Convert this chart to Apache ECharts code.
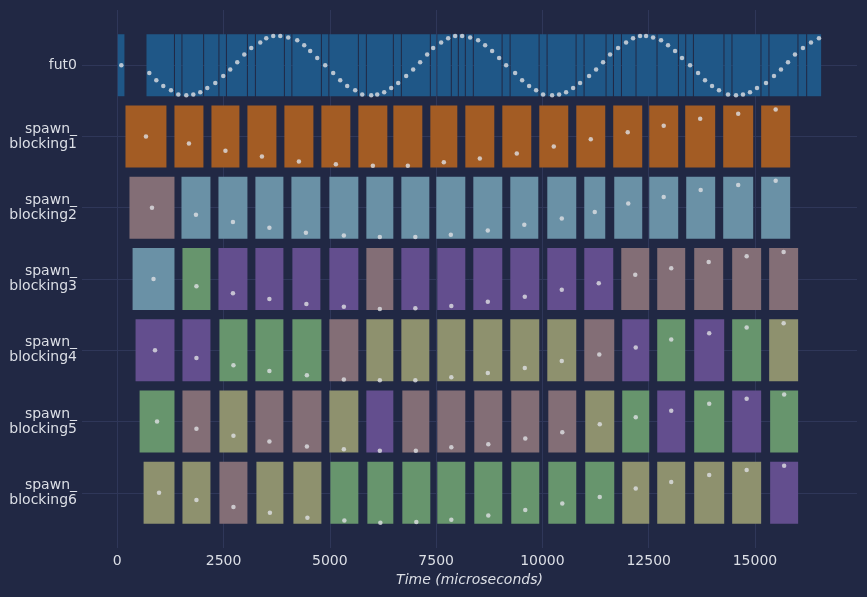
<!DOCTYPE html>
<html>
<head>
<meta charset="utf-8">
<script src="https://cdn.jsdelivr.net/npm/echarts@6/dist/echarts.min.js"></script>
<style>
  html, body { margin: 0; padding: 0; background: #212844; }
  #main { width: 867px; height: 597px; }
</style>
</head>
<body>
<div id="main"></div>
<script>
// row names, top to bottom
const rowNames = ['fut0', 'spawn_\nblocking1', 'spawn_\nblocking2', 'spawn_\nblocking3',
  'spawn_\nblocking4', 'spawn_\nblocking5', 'spawn_\nblocking6'];
const xTicks = [0, 2500, 5000, 7500, 10000, 12500, 15000];

// fut0: busy segments (microseconds)
const fut0Start = [0, 675, 1345, 1521, 2031, 2391, 2567, 3061, 3249, 3931, 4107, 4801, 4977, 5671,
  5859, 6494, 6682, 7364, 7516, 7857, 8022, 8187, 8375, 9052, 9240, 9922, 10110, 10792, 10980,
  11497, 11671, 11859, 12202, 12696, 13199, 13371, 13552, 14271, 14459, 15141, 15329, 16011, 16216];
const fut0End = [180, 1345, 1521, 2031, 2391, 2567, 3061, 3249, 3931, 4107, 4801, 4977, 5671, 5859,
  6494, 6682, 7364, 7516, 7857, 8022, 8187, 8375, 9052, 9240, 9922, 10110, 10792, 10980, 11497,
  11671, 11859, 12202, 12696, 13199, 13371, 13552, 14271, 14459, 15141, 15329, 16011, 16216, 16568];

// fut0: sample points (time, level inside the row, up is positive)
const fut0DotTime = [95, 753, 918, 1082, 1263, 1435, 1623, 1788, 1952, 2117, 2305, 2493, 2657, 2822,
  2987, 3151, 3363, 3504, 3668, 3833, 4021, 4233, 4397, 4538, 4703, 4891, 5079, 5244, 5408, 5596,
  5761, 5973, 6114, 6278, 6443, 6607, 6795, 6960, 7124, 7289, 7430, 7618, 7783, 7947, 8112, 8300,
  8488, 8653, 8817, 8982, 9147, 9358, 9523, 9687, 9852, 10016, 10228, 10393, 10557, 10722, 10886,
  11098, 11263, 11427, 11592, 11780, 11968, 12132, 12297, 12438, 12603, 12791, 12955, 13120, 13284,
  13473, 13661, 13825, 13990, 14154, 14366, 14554, 14718, 14883, 15048, 15259, 15447, 15612, 15777,
  15941, 16129, 16318, 16505];
const fut0DotLevel = [
  0, -0.11, -0.21, -0.29, -0.35, -0.41, -0.42, -0.41, -0.38, -0.32, -0.25, -0.15, -0.06,
  0.04, 0.15, 0.24, 0.32, 0.38, 0.41, 0.41, 0.39, 0.35, 0.28, 0.20, 0.10,
  0, -0.11, -0.21, -0.29, -0.35, -0.41, -0.42, -0.41, -0.38, -0.32, -0.25, -0.15, -0.06,
  0.04, 0.15, 0.24, 0.32, 0.38, 0.41, 0.41, 0.39, 0.35, 0.28, 0.20, 0.10,
  0, -0.11, -0.21, -0.29, -0.35, -0.41, -0.42, -0.41, -0.38, -0.32, -0.25, -0.15, -0.06,
  0.04, 0.15, 0.24, 0.32, 0.38, 0.41, 0.41, 0.39, 0.35, 0.28, 0.20, 0.10,
  0, -0.11, -0.21, -0.29, -0.35, -0.41, -0.42, -0.41, -0.38, -0.32, -0.25, -0.15, -0.06,
  0.04, 0.15, 0.24, 0.32, 0.38];

// spawn_blocking rows: task start/end, kind of task, sample level
const b1Start = [181, 1333, 2203, 3049, 3919, 4789, 5659, 6482, 7352, 8175, 9045, 9915, 10785, 11654, 12501, 13347, 14241, 15134];
const b1End = [1168, 2038, 2885, 3755, 4625, 5494, 6364, 7187, 8010, 8880, 9750, 10620, 11490, 12360, 13206, 14076, 14970, 15840];
const b1Kind = ['O', 'O', 'O', 'O', 'O', 'O', 'O', 'O', 'O', 'O', 'O', 'O', 'O', 'O', 'O', 'O', 'O', 'O'];
const b1Level = [0, -0.10, -0.20, -0.28, -0.35, -0.39, -0.41, -0.41, -0.36, -0.31, -0.24, -0.14, -0.04, 0.06, 0.15, 0.25, 0.32, 0.38];

const b2Start = [275, 1498, 2368, 3237, 4084, 4977, 5847, 6670, 7493, 8363, 9233, 10103, 10973, 11678, 12501, 13371, 14241, 15134];
const b2End = [1357, 2203, 3073, 3919, 4789, 5682, 6505, 7352, 8198, 9068, 9915, 10808, 11490, 12360, 13206, 14076, 14970, 15840];
const b2Kind = ['M', 'S', 'S', 'S', 'S', 'S', 'S', 'S', 'S', 'S', 'S', 'S', 'S', 'S', 'S', 'S', 'S', 'S'];
const b2Level = [0, -0.10, -0.20, -0.28, -0.35, -0.39, -0.41, -0.41, -0.38, -0.32, -0.24, -0.15, -0.06, 0.06, 0.15, 0.25, 0.32, 0.38];

const b3Start = [348, 1521, 2368, 3237, 4107, 4977, 5847, 6670, 7516, 8363, 9233, 10103, 10973, 11843, 12689, 13559, 14452, 15322];
const b3End = [1357, 2203, 3073, 3919, 4789, 5682, 6505, 7352, 8198, 9068, 9938, 10808, 11678, 12525, 13371, 14264, 15157, 16027];
const b3Kind = ['S', 'G', 'P', 'P', 'P', 'P', 'M', 'P', 'P', 'P', 'P', 'P', 'P', 'M', 'M', 'M', 'M', 'M'];
const b3Level = [0, -0.10, -0.20, -0.28, -0.35, -0.39, -0.42, -0.41, -0.38, -0.32, -0.25, -0.15, -0.06, 0.06, 0.15, 0.24, 0.32, 0.38];

const b4Start = [418, 1521, 2391, 3237, 4107, 4977, 5847, 6670, 7516, 8363, 9233, 10103, 10973, 11866, 12689, 13559, 14452, 15322];
const b4End = [1357, 2203, 3073, 3919, 4813, 5682, 6505, 7352, 8198, 9068, 9938, 10808, 11702, 12525, 13371, 14288, 15157, 16027];
const b4Kind = ['P', 'P', 'G', 'G', 'G', 'M', 'L', 'L', 'L', 'L', 'L', 'L', 'M', 'P', 'G', 'P', 'G', 'L'];
const b4Level = [0, -0.11, -0.21, -0.29, -0.35, -0.41, -0.42, -0.42, -0.38, -0.32, -0.25, -0.15, -0.06, 0.04, 0.15, 0.24, 0.32, 0.38];

const b5Start = [513, 1521, 2391, 3237, 4107, 4977, 5847, 6693, 7516, 8386, 9256, 10127, 10996, 11866, 12689, 13559, 14452, 15345];
const b5End = [1357, 2203, 3073, 3919, 4813, 5682, 6505, 7352, 8198, 9068, 9938, 10808, 11702, 12525, 13371, 14288, 15157, 16027];
const b5Kind = ['G', 'M', 'L', 'M', 'M', 'L', 'P', 'M', 'M', 'M', 'M', 'M', 'L', 'G', 'P', 'G', 'P', 'G'];
const b5Level = [0, -0.10, -0.20, -0.28, -0.35, -0.39, -0.41, -0.41, -0.36, -0.32, -0.24, -0.15, -0.04, 0.06, 0.15, 0.25, 0.32, 0.38];

const b6Start = [607, 1521, 2391, 3261, 4131, 5001, 5871, 6693, 7516, 8386, 9256, 10127, 10996, 11866, 12689, 13559, 14452, 15345];
const b6End = [1357, 2203, 3073, 3919, 4813, 5682, 6505, 7375, 8198, 9068, 9938, 10808, 11702, 12525, 13371, 14288, 15157, 16027];
const b6Kind = ['L', 'L', 'M', 'L', 'L', 'G', 'G', 'G', 'G', 'G', 'G', 'G', 'G', 'L', 'L', 'L', 'L', 'P'];
const b6Level = [0, -0.10, -0.20, -0.28, -0.35, -0.39, -0.42, -0.41, -0.38, -0.32, -0.24, -0.15, -0.06, 0.06, 0.15, 0.25, 0.32, 0.38];

const kindColor = {
  F: '#1f5787', // fut0
  O: '#a35c24',
  S: '#6a91a6',
  M: '#836e76',
  G: '#67956d',
  P: '#634e8e',
  L: '#8e916e'
};

const textColor = '#dcdfe6';
const gridColor = '#2f3759';
const font = 'DejaVu Sans';

// build series data
const barData = [];
const dotData = [];
for (let i = 0; i < fut0Start.length; i++) {
  barData.push({ value: [fut0Start[i], fut0End[i], 0], itemStyle: { color: kindColor.F } });
}
for (let i = 0; i < fut0DotTime.length; i++) {
  dotData.push([fut0DotTime[i], 0 - fut0DotLevel[i]]);
}
const blocking = [
  [b1Start, b1End, b1Kind, b1Level],
  [b2Start, b2End, b2Kind, b2Level],
  [b3Start, b3End, b3Kind, b3Level],
  [b4Start, b4End, b4Kind, b4Level],
  [b5Start, b5End, b5Kind, b5Level],
  [b6Start, b6End, b6Kind, b6Level]
];
blocking.forEach(function (b, k) {
  const row = k + 1;
  for (let i = 0; i < b[0].length; i++) {
    barData.push({ value: [b[0][i], b[1][i], row], itemStyle: { color: kindColor[b[2][i]] } });
    dotData.push([(b[0][i] + b[1][i]) / 2, row - b[3][i]]);
  }
});

function renderBar(params, api) {
  const s = api.coord([api.value(0), api.value(2)]);
  const e = api.coord([api.value(1), api.value(2)]);
  const h = Math.abs(api.size([0, 1])[1]) * 0.87;
  const shape = echarts.graphic.clipRectByRect(
    { x: s[0] + 0.5, y: s[1] - h / 2, width: Math.max(e[0] - s[0] - 1, 0.5), height: h },
    { x: params.coordSys.x, y: params.coordSys.y, width: params.coordSys.width, height: params.coordSys.height }
  );
  return shape && { type: 'rect', shape: shape, style: { fill: api.visual('color') } };
}

const chart = echarts.init(document.getElementById('main'));
const rowIdx = [0, 1, 2, 3, 4, 5, 6];

chart.setOption({
  backgroundColor: '#212844',
  animation: false,
  textStyle: { fontFamily: font },
  grid: { left: 82, right: 10, top: 10, bottom: 49 },
  xAxis: {
    type: 'value',
    min: -830,
    max: 17400,
    name: 'Time (microseconds)',
    nameLocation: 'middle',
    nameGap: 24,
    nameTextStyle: { color: textColor, fontSize: 14, fontStyle: 'italic', fontFamily: font },
    axisLine: { show: false },
    axisTick: { show: false, customValues: xTicks },
    axisLabel: {
      customValues: xTicks,
      color: textColor,
      fontSize: 14,
      fontFamily: font,
      margin: 6,
      formatter: function (v) { return String(Math.round(v)); }
    },
    splitLine: { show: true, lineStyle: { color: gridColor, width: 1 } }
  },
  yAxis: {
    type: 'value',
    min: -0.775,
    max: 6.775,
    inverse: true,
    axisLine: { show: false },
    axisTick: { show: false, customValues: rowIdx },
    axisLabel: {
      customValues: rowIdx,
      color: textColor,
      fontSize: 14,
      fontFamily: font,
      lineHeight: 15,
      align: 'right',
      margin: 5,
      formatter: function (v) { return rowNames[Math.round(v)]; }
    },
    splitLine: { show: true, lineStyle: { color: gridColor, width: 1 } }
  },
  series: [
    {
      type: 'custom',
      renderItem: renderBar,
      encode: { x: [0, 1], y: 2 },
      data: barData,
      z: 2
    },
    {
      type: 'scatter',
      data: dotData,
      symbol: 'circle',
      symbolSize: 4.5,
      itemStyle: { color: '#dfe0e4' },
      z: 3
    }
  ]
});
</script>
</body>
</html>
